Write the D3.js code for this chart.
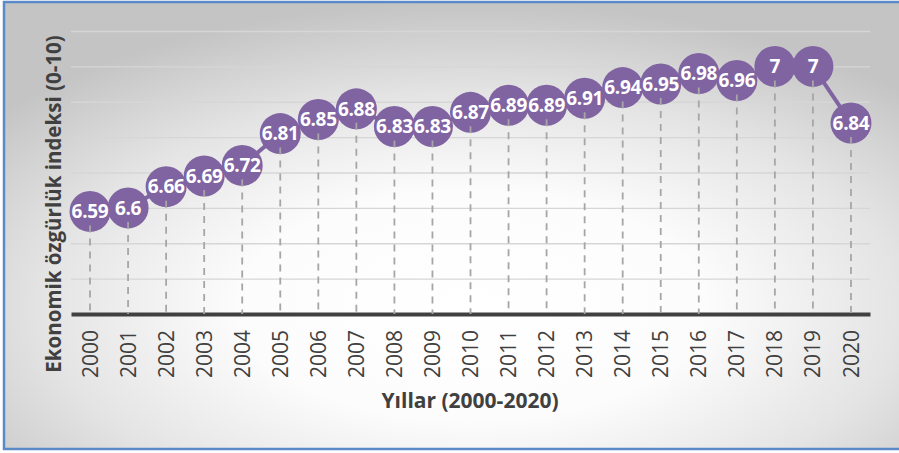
<!DOCTYPE html>
<html>
<head>
<meta charset="utf-8">
<script src="https://cdn.jsdelivr.net/npm/d3@7"></script>
<style>
  body { margin: 0; background: #fff; }
  svg text { font-family: "Open Sans", "DejaVu Sans", sans-serif; }
  .grid line { stroke: url(#gridFade); stroke-width: 1.3px; }
  .grid .domain { display: none; }
  .axis--x .domain { stroke: #404040; stroke-width: 4px; }
  .axis--x text { fill: #404040; font-size: 21px; }
  .drop { stroke: #a6a6a6; stroke-width: 1.8px; stroke-dasharray: 7,6; }
  .line { fill: none; stroke: #8064a2; stroke-width: 4px; }
  .dot { fill: #8064a2; }
  .lbl { fill: #fff; font-size: 19px; font-weight: bold; letter-spacing: -0.3px; }
  .title { fill: #404040; font-weight: bold; }
</style>
</head>
<body>
<svg id="chart" width="899" height="453"></svg>
<script>

/// data
var years = ["2000","2001","2002","2003","2004","2005","2006","2007","2008","2009","2010",
             "2011","2012","2013","2014","2015","2016","2017","2018","2019","2020"];
var values = [6.59, 6.6, 6.66, 6.69, 6.72, 6.81, 6.85, 6.88, 6.83, 6.83, 6.87,
              6.89, 6.89, 6.91, 6.94, 6.95, 6.98, 6.96, 7, 7, 6.84];
var yDomain = [6.3, 7.1];
var yTitle = "Ekonomik özgürlük indeksi (0-10)";
var xTitle = "Yıllar (2000-2020)";

var data = years.map(function(d, i) { return { year: d, v: values[i] }; });

var svg = d3.select("#chart"),
    margin = {top: 31, right: 29, bottom: 139, left: 71},
    width = +svg.attr("width") - margin.left - margin.right,
    height = +svg.attr("height") - margin.top - margin.bottom;

/// background gradient + frame
var defs = svg.append("defs");
var rg = defs.append("radialGradient").attr("id", "bgGrad")
    .attr("cx", "52%").attr("cy", "68%").attr("r", "68%");
rg.append("stop").attr("offset", "0%").attr("stop-color", "#ffffff");
rg.append("stop").attr("offset", "38%").attr("stop-color", "#fcfcfc");
rg.append("stop").attr("offset", "70%").attr("stop-color", "#e4e4e4");
rg.append("stop").attr("offset", "100%").attr("stop-color", "#c4c4c4");

var gf = defs.append("linearGradient").attr("id", "gridFade")
    .attr("gradientUnits", "userSpaceOnUse")
    .attr("x1", 0).attr("y1", margin.top).attr("x2", 0).attr("y2", margin.top + height);
gf.append("stop").attr("offset", "0%").attr("stop-color", "#d6d6d6");
gf.append("stop").attr("offset", "60%").attr("stop-color", "#a8a8a8");
gf.append("stop").attr("offset", "100%").attr("stop-color", "#a0a0a0");

svg.append("rect")
    .attr("x", 4).attr("y", 2).attr("width", 900).attr("height", 447)
    .attr("fill", "url(#bgGrad)")
    .attr("stroke", "#5b8ac9").attr("stroke-width", 2.5);

var g = svg.append("g").attr("transform", "translate(" + margin.left + "," + margin.top + ")");

var x = d3.scaleBand().domain(years).range([0, width]).padding(0);
var y = d3.scaleLinear().domain(yDomain).range([height, 0]);

/// gridlines
g.append("g")
  .attr("class", "grid")
  .call(d3.axisLeft(y).ticks(8).tickSize(-width).tickFormat(""))
  .selectAll(".tick")
  .filter(function(d) { return d === yDomain[0]; })
  .remove();

/// drop lines
g.selectAll(".drop")
  .data(data)
  .enter().append("line")
  .attr("class", "drop")
  .attr("x1", function(d) { return x(d.year) + x.bandwidth() / 2; })
  .attr("x2", function(d) { return x(d.year) + x.bandwidth() / 2; })
  .attr("y1", function(d) { return y(d.v) + 14; })
  .attr("y2", y(yDomain[0]));

/// x axis
var xAxis = g.append("g")
  .attr("class", "axis axis--x")
  .attr("transform", "translate(0," + height + ")")
  .call(d3.axisBottom(x).tickSize(0).tickSizeOuter(0));

xAxis.selectAll("text")
  .attr("transform", "rotate(-90)")
  .attr("text-anchor", "end")
  .attr("x", -16)
  .attr("y", 0)
  .attr("dy", "0.36em");

/// line
var line = d3.line()
  .x(function(d) { return x(d.year) + x.bandwidth() / 2; })
  .y(function(d) { return y(d.v); });

g.append("path")
  .datum(data)
  .attr("class", "line")
  .attr("d", line);

/// markers
g.selectAll(".dot")
  .data(data)
  .enter().append("circle")
  .attr("class", "dot")
  .attr("cx", function(d) { return x(d.year) + x.bandwidth() / 2; })
  .attr("cy", function(d) { return y(d.v); })
  .attr("r", 20.5);

/// drop lines show over the markers in the original
g.selectAll(".drop").raise();

/// labels
g.selectAll(".lbl")
  .data(data)
  .enter().append("text")
  .attr("class", "lbl")
  .attr("text-anchor", "middle")
  .attr("x", function(d) { return x(d.year) + x.bandwidth() / 2; })
  .attr("y", function(d) { return y(d.v); })
  .attr("dy", "0.36em")
  .text(function(d) { return d.v; });

/// axis titles
svg.append("text")
  .attr("class", "title")
  .attr("transform", "translate(61," + 204 + ") rotate(-90)")
  .attr("text-anchor", "middle")
  .style("font-size", "20.5px")
  .text(yTitle);

svg.append("text")
  .attr("class", "title")
  .attr("x", 470)
  .attr("y", 408)
  .attr("text-anchor", "middle")
  .style("font-size", "21px")
  .text(xTitle);

</script>
</body>
</html>
